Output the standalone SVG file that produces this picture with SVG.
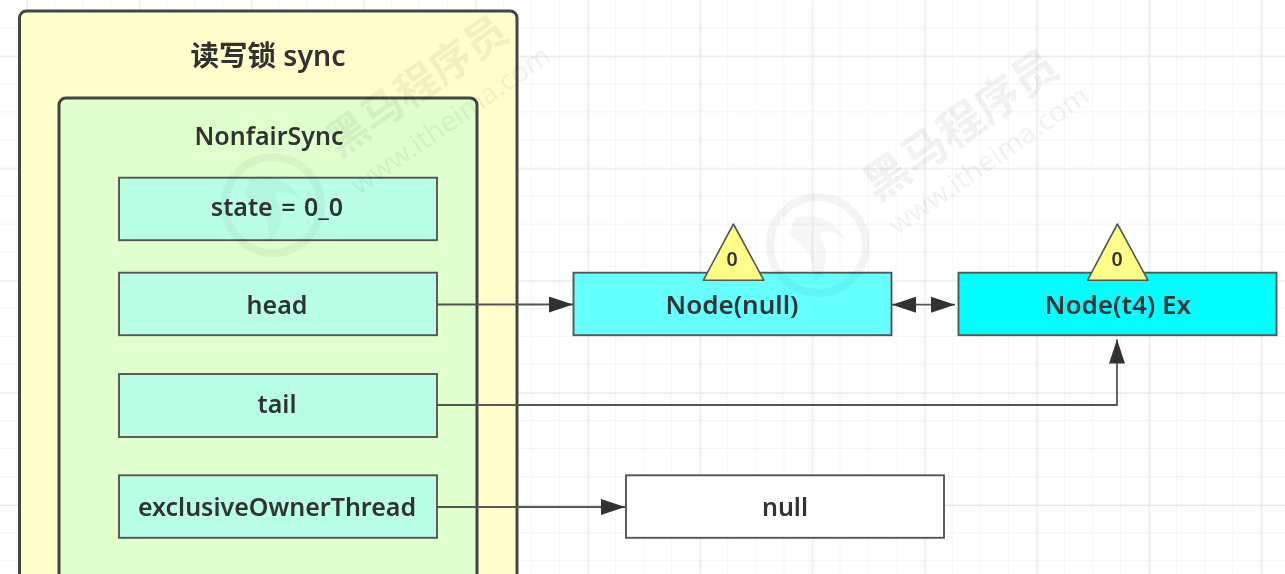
<svg xmlns="http://www.w3.org/2000/svg" width="1285" height="574" viewBox="0 0 1285 574">
<style>
text{font-family:"Noto Sans","Noto Sans CJK SC",sans-serif;fill:#333;text-anchor:middle;font-weight:600}
.lab{font-size:25px}
.box{fill:#b9ffe6;stroke:#555;stroke-width:1.9}
.node{stroke:#555;stroke-width:1.9}
.tri{fill:#ffff88;stroke:#555;stroke-width:1.6;stroke-linejoin:round}
.cont{stroke:#444;stroke-width:3}
.conn{fill:none;stroke:#555;stroke-width:1.8}
.wmt{fill:#000;opacity:.05;font-weight:700}
.wmr{fill:none;stroke:#000;opacity:.045;stroke-width:8}
.wmb{fill:#000;opacity:.035}
.minor{stroke:#f1f1f1;stroke-width:1.4}
.major{stroke:#e4e4e4;stroke-width:1.6}
</style>
<defs>
<pattern id="gm" width="28.05" height="28.05" patternUnits="userSpaceOnUse" patternTransform="translate(-1 0.2)"><path d="M28.05 0V28.05M0 28.05H28.05" class="minor" fill="none"/></pattern>
<pattern id="gM" width="112.2" height="112.2" patternUnits="userSpaceOnUse" patternTransform="translate(27 56.2)"><path d="M0 0V112.2M0 0H112.2" class="major" fill="none"/></pattern>
<marker id="ah" viewBox="0 0 24 16" refX="24" refY="8" markerWidth="24" markerHeight="16" markerUnits="userSpaceOnUse" orient="auto-start-reverse"><path d="M0 0L24 8L0 16Z" fill="#333"/></marker>
<filter id="soft" x="-2%" y="-2%" width="104%" height="104%"><feGaussianBlur stdDeviation="0.65"/></filter>
</defs>
<rect width="1285" height="574" fill="#fff"/>
<g filter="url(#soft)">
<g id="grid"><rect width="1285" height="574" fill="url(#gm)"/><rect width="1285" height="574" fill="url(#gM)"/></g>
<g id="sync"><rect class="cont" x="19.5" y="11" width="497.5" height="600" rx="7" fill="#ffffcc"/><text x="268" y="66" font-size="28.5">读写锁 sync</text></g>
<g id="nonfair"><rect class="cont" x="59" y="98" width="418" height="520" rx="7" fill="#e0ffcc"/><text x="269" y="145" class="lab">NonfairSync</text></g>
<g id="state"><rect class="box" x="119" y="177.7" width="318" height="62.5"/><text x="277" y="216" class="lab" word-spacing="2">state = 0_0</text></g>
<g id="head"><rect class="box" x="119" y="272.7" width="318" height="62.5"/><text x="277" y="313.5" class="lab">head</text></g>
<g id="tail"><rect class="box" x="119" y="374" width="318" height="63"/><text x="277" y="412.5" class="lab">tail</text></g>
<g id="owner"><rect class="box" x="119" y="475.3" width="318" height="62.5"/><text x="277" y="515.5" class="lab">exclusiveOwnerThread</text></g>
<g id="node-null"><rect class="node" x="573.5" y="272.7" width="318" height="62.5" fill="#66ffff"/><text x="732" y="313.5" font-size="26">Node(null)</text></g>
<g id="badge-null"><path class="tri" d="M733.4 224L763.9 280.3H703.3Z"/><text x="732" y="266" font-size="19.5">0</text></g>
<g id="node-t4"><rect class="node" x="958.5" y="272.7" width="318" height="62.5" fill="#00ffff"/><text x="1118" y="313.5" font-size="26">Node(t4) Ex</text></g>
<g id="badge-t4"><path class="tri" d="M1117.4 224L1148 280.3H1087.5Z"/><text x="1117" y="266" font-size="19.5">0</text></g>
<g id="node-nullval"><rect class="node" x="626" y="475.3" width="318" height="62.5" fill="#fff"/><text x="785" y="515.5" class="lab">null</text></g>
<g id="connectors">
<path class="conn" d="M437 304.5H573" marker-end="url(#ah)"/>
<path class="conn" d="M892 304.7H955" marker-start="url(#ah)" marker-end="url(#ah)"/>
<path class="conn" d="M437 405H1117V339.5" marker-end="url(#ah)"/>
<path class="conn" d="M437 507H625" marker-end="url(#ah)"/>
</g>
<g id="watermark-1">
<circle class="wmr" cx="273" cy="205" r="48"/>
<path class="wmb" d="M250 178C272 172 292 182 300 200C288 190 280 190 274 194C284 210 284 230 268 244C272 222 262 204 244 196C246 190 248 184 250 178Z"/>
<text class="wmt" transform="translate(425 98) rotate(-35)" font-size="42">黑马程序员</text>
<text class="wmt" transform="translate(456 128) rotate(-35)" font-size="28" style="font-weight:400">www.itheima.com</text>
</g>
<g id="watermark-2">
<circle class="wmr" cx="818" cy="245" r="48"/>
<path class="wmb" d="M795 218C817 212 837 222 845 240C833 230 825 230 819 234C829 250 829 270 813 284C817 262 807 244 789 236C791 230 793 224 795 218Z"/>
<text class="wmt" transform="translate(970 138) rotate(-35)" font-size="45">黑马程序员</text>
<text class="wmt" transform="translate(994 168) rotate(-35)" font-size="28" style="font-weight:400">www.itheima.com</text>
</g>
</g>
</svg>
